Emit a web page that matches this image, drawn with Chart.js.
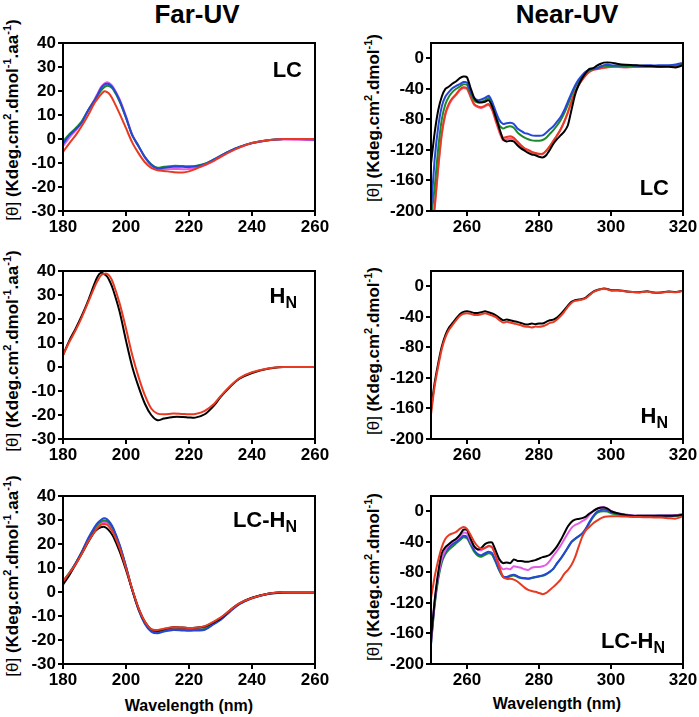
<!DOCTYPE html>
<html>
<head>
<meta charset="utf-8">
<script src="https://cdn.jsdelivr.net/npm/chart.js@4/dist/chart.umd.min.js"></script>
<style>
  body { margin: 0; width: 699px; height: 717px; background: #fff; position: relative; overflow: hidden;
         font-family: "Liberation Sans", Arial, sans-serif; font-weight: bold; color: #000; }
  canvas { position: absolute; }
  .t { position: absolute; line-height: 1; white-space: nowrap; }
  .head { font-size: 26px; transform: translateX(-50%); }
  .ytitle { font-size: 17px; transform: translate(-50%, -50%) rotate(-90deg); }
  .ytitle sup { font-size: 11px; vertical-align: 7px; line-height: 0; }
  .ytitle .th { font-weight: normal; }
  .xtitle { font-size: 16px; transform: translateX(-50%); }
  .lab { font-size: 22px; transform: translateX(-100%); }
  .lab sub { font-size: 16px; vertical-align: -5px; line-height: 0; }
</style>
</head>
<body>

<div class="t head" style="left:197px; top:1px">Far-UV</div>
<div class="t head" style="left:567px; top:1px">Near-UV</div>

<div class="t ytitle" style="left:12px; top:120px"><span class="th">[θ]</span> (Kdeg.cm<sup>2</sup>.dmol<sup>-1</sup>.aa<sup>-1</sup>)</div>
<div class="t ytitle" style="left:12px; top:351px"><span class="th">[θ]</span> (Kdeg.cm<sup>2</sup>.dmol<sup>-1</sup>.aa<sup>-1</sup>)</div>
<div class="t ytitle" style="left:12px; top:576px"><span class="th">[θ]</span> (Kdeg.cm<sup>2</sup>.dmol<sup>-1</sup>.aa<sup>-1</sup>)</div>
<div class="t ytitle" style="left:373px; top:118px"><span class="th">[θ]</span> (Kdeg.cm<sup>2</sup>.dmol<sup>-1</sup>)</div>
<div class="t ytitle" style="left:373px; top:351px"><span class="th">[θ]</span> (Kdeg.cm<sup>2</sup>.dmol<sup>-1</sup>)</div>
<div class="t ytitle" style="left:373px; top:577px"><span class="th">[θ]</span> (Kdeg.cm<sup>2</sup>.dmol<sup>-1</sup>)</div>

<div class="t xtitle" style="left:189px; top:698px">Wavelength (nm)</div>
<div class="t xtitle" style="left:557px; top:696px">Wavelength (nm)</div>

<canvas id="farLC"></canvas>
<canvas id="nearLC"></canvas>
<canvas id="farHN"></canvas>
<canvas id="nearHN"></canvas>
<canvas id="farLCHN"></canvas>
<canvas id="nearLCHN"></canvas>

<div class="t lab" style="left:302px; top:59px">LC</div>
<div class="t lab" style="left:669px; top:177px">LC</div>
<div class="t lab" style="left:297px; top:285px">H<sub>N</sub></div>
<div class="t lab" style="left:668px; top:405px">H<sub>N</sub></div>
<div class="t lab" style="left:297px; top:509px">LC-H<sub>N</sub></div>
<div class="t lab" style="left:665px; top:630px">LC-H<sub>N</sub></div>

<script>
// wavelengths (nm)
var farWl = [180,182,184,186,188,190,191,192,193,194,195,196,198,200,202,204,206,208,210,212,215,218,220,222,225,228,230,233,236,240,245,250,255,260];
var nearWl = [250,251,252,253,254,255,256,257,258,259,260,261,262,263,264,265,266,267,268,269,270,271,272,273,274,275,276,277,278,279,280,
              281,282,283,284,285,286,287,288,289,290,291,292,293,294,295,296,297,298,299,300,302,304,306,308,310,312,314,316,318,320];

// tick labels
var farXTicks = [180, 200, 220, 240, 260];
var farYTicks = [-30, -20, -10, 0, 10, 20, 30, 40];
var nearXTicks = [260, 280, 300, 320];
var nearYTicks = [-200, -160, -120, -80, -40, 0];

// Far-UV LC
var farLC_red = [-5.4,-1.8,1.5,5.5,10,15,16.8,18.5,19.8,19.5,18.3,16,10.5,4.5,-1.5,-6,-9.7,-12,-13,-13.3,-13.8,-14,-13.5,-12.5,-10.8,-9,-7.5,-5.4,-3.6,-1.7,-0.5,0,0,0];
var farLC_blue = [-2,1.5,4,7,12,16,18.5,21,22.5,23,22.5,21,16,9,1.5,-3,-7.5,-10.7,-12.3,-12,-11.6,-11.6,-11.7,-11.5,-10.5,-8.5,-7,-5,-3.3,-1.7,-0.5,0,0,-0.2];
var farLC_green = [-1,2,4.5,7.5,12,16,18,20,21.5,22.2,21.8,20.5,15.5,8.8,1.5,-3,-7.5,-10.5,-12,-11.6,-11.2,-11.3,-11.4,-11.2,-10.3,-8.4,-7,-5,-3.3,-1.7,-0.5,0,0,0];
var farLC_magenta = [-3,0.5,3.5,7,12,16.5,19,21.5,23,23.6,23,21.5,16.5,9.5,1.8,-3,-7.8,-11,-12.6,-12.6,-12.5,-12.6,-12.5,-12.2,-11,-9,-7.4,-5.2,-3.5,-1.8,-0.6,-0.2,-0.3,-0.5];

// Far-UV HN
var farHN_black = [4.9,11,16,21.5,27.7,34.7,37.7,39.2,38.8,37.7,35.3,31.9,22.9,11,0,-8.3,-15.3,-20,-22.2,-21.5,-20.8,-20.8,-21,-21.1,-19.7,-16,-12.5,-8.3,-4.9,-2.5,-0.7,0,0,0];
var farHN_red = [4.9,10.4,15.3,20.8,27,33.3,36,38.1,38.8,38.8,37.5,34.7,26.4,16,4.9,-4.2,-11.8,-17.3,-19.4,-19.7,-19.4,-19.6,-19.7,-19.6,-18.3,-15.3,-12.2,-8,-4.6,-2.2,-0.6,0,0,0];

// Far-UV LC-HN
var farLCHN_red = [4.3,7.8,11.5,16,21,25,26.7,28,28.3,28,26.5,24.4,18.2,9.9,1.1,-6.8,-12.4,-15.5,-15.8,-15.3,-14.7,-14.8,-15,-14.9,-14.2,-12.2,-10.7,-7.6,-4.7,-2.5,-0.7,0,0,0];
var farLCHN_black = [3,7,11.5,16,20.8,25,26.3,27,27.2,26.5,25,23,16.8,9.2,0.8,-6.8,-12.4,-15.5,-16.1,-15.5,-14.7,-14.8,-15,-14.9,-14.4,-12.5,-11,-7.6,-4.7,-2.4,-0.7,0,0,0];
var farLCHN_blue = [4.3,7.8,12,16.8,22.4,27,28.8,30,30.7,30.3,28.8,26.5,19.6,10.6,0.8,-7.5,-13.3,-16.5,-17.2,-16.5,-15.8,-16,-16.1,-16,-15.8,-13.3,-11.7,-8.2,-5.1,-2.6,-0.8,-0.3,-0.3,-0.3];
var farLCHN_green = [4.5,8,12,16.8,22,26.5,28.2,29.3,29.8,29.5,28.2,26,19.3,10.5,0.8,-7.3,-13,-16.2,-16.8,-16.2,-15.6,-15.7,-15.8,-15.7,-15.4,-13,-11.4,-8,-5,-2.5,-0.8,-0.3,-0.2,-0.2];
var farLCHN_magenta = [4,7.5,11.8,16.5,21.5,25.8,27.5,28.7,29.2,28.9,27.6,25.5,19,10.3,0.9,-7.2,-12.8,-15.9,-16.4,-15.9,-15.3,-15.4,-15.5,-15.4,-15,-12.8,-11.2,-7.9,-4.9,-2.5,-0.8,-0.2,-0.2,-0.2];

// Near-UV LC
var nearLC_black = [-138,-98,-68,-50,-40,-37,-33,-30,-26,-24,-25,-39,-52,-57,-58,-57,-55,-63,-77,-92,-106,-109,-108,-109,-114,-118,-121,-124,-126,-127,-129,
                    -130,-127,-120,-112,-106,-101,-96,-88,-68,-48,-35,-26,-19,-14,-13,-10,-7.5,-5.7,-5.5,-5.7,-7.5,-8.5,-9,-9.5,-10,-10.5,-11,-11,-12,-9];
var nearLC_blue = [-200,-133,-90,-63,-50,-44,-39,-36,-34,-31,-32,-44,-52,-55,-54,-52,-49,-57,-70,-81,-86,-85,-84.5,-86,-92,-95,-98,-99,-101,-101.5,-101.5,
                   -101,-97.5,-93,-89,-83,-77,-68,-57,-46,-36,-28,-22,-17.5,-15,-14,-13,-11,-9,-8.5,-9,-9.5,-9,-9,-10,-9,-9.5,-9,-9,-8,-6];
var nearLC_green = [-210,-170,-118,-80,-60,-50,-44,-40,-37,-34,-35,-46,-55,-58,-57,-55,-52,-60,-74,-88,-92,-90,-89,-91,-97,-101,-104,-106,-107.5,-108,-108,
                    -107,-104,-99,-94,-88,-81,-72,-61,-49,-38,-30,-24,-19,-16,-14.5,-13,-11.5,-10,-10,-10,-10,-10.5,-10,-10,-10,-10.5,-10,-10,-9,-7];
var nearLC_red = [-240,-195,-142,-98,-72,-59,-52,-47,-41,-38,-39,-50,-60,-63,-64,-62,-60,-67,-81,-94,-104,-103,-102,-104,-109,-114,-118,-120,-122.5,-124,-125,
                  -125,-121,-115,-108,-101,-93,-83,-71,-57,-44,-35,-28,-22,-17.5,-15,-14,-13,-12,-11.5,-11,-11,-11.5,-11,-11,-11,-11,-10.5,-10,-10,-7.5];
var nearLC_pink = [-240,-198,-145,-100,-74,-61,-53,-48,-42,-39,-40,-51,-61,-64,-65,-63,-61,-68,-83,-97,-107,-106,-105,-106,-110,-115,-119,-121,-123,-124.5,-125.5,
                   -125.5,-121.5,-115.5,-108.5,-101.5,-93.5,-83.5,-71.5,-57.5,-44.5,-35.5,-28.5,-22.5,-18,-15.5,-14.5,-13.5,-12.5,-12,-11.5,-11.5,-12,-11.5,-11.5,-11.5,-11.5,-11,-10.5,-10.5,-8];

// Near-UV HN
var nearHN_black = [-162,-127,-101,-79,-64,-54,-48,-42,-36.6,-33.5,-32.7,-33.5,-35,-35,-34,-32.7,-34,-35.7,-38,-41.4,-44.4,-43.6,-44.4,-45.8,-46.6,-48,-49.7,-50,-48.8,-49.7,-48.8,
                    -48.8,-46.6,-44.4,-43.6,-41,-36.6,-31.4,-25.3,-20.5,-18.3,-17.4,-16.6,-14.8,-10.9,-7.4,-5.2,-3.9,-3,-3.5,-5.2,-5.2,-6.5,-7.4,-7.8,-6.5,-8.3,-8,-7,-7.5,-5.7];
var nearHN_red = [-168,-131,-105,-82,-67,-57,-50.5,-44.4,-39,-36,-35.3,-36,-37.5,-37.5,-36.6,-35.3,-36.6,-38.3,-40.5,-44.4,-47.5,-46.6,-47.5,-48.8,-49.7,-51,-52.7,-53,-54,-52.7,-53,
                  -52.3,-50.5,-48,-47,-43.6,-39,-33.5,-27,-21.8,-19.2,-18.3,-17.4,-15.7,-11.8,-7.8,-5.7,-3.9,-3.5,-3.9,-5.7,-5.5,-6.8,-7.6,-8,-6.8,-8.5,-8.2,-7.2,-7.7,-6];

// Near-UV LC-HN
var nearLCHN_red = [-114,-86,-64,-47,-36,-31,-29,-27,-23,-20.5,-23,-31,-40,-46,-49,-48,-45,-47.5,-59,-73,-86,-88.5,-88.5,-89.5,-92,-96,-100,-103,-104.5,-105.5,-107,
                    -108.5,-107,-103,-99,-94.5,-89.5,-82,-77,-70.5,-60.5,-46.6,-33.5,-25,-20.5,-16,-12.6,-9.6,-7.4,-6.8,-6.5,-6.5,-7,-7.4,-7.6,-7.8,-8,-8.3,-9,-9.6,-6.5];
var nearLCHN_black = [-168,-118,-80,-55,-47,-43,-39,-36,-31,-24,-24.5,-36,-46,-50,-48,-43,-41,-41,-52,-63,-68,-67,-68,-63,-65,-65,-66,-66,-65,-64,-62,
                      -60,-59,-57,-52,-46,-38,-29,-20,-14,-11,-10,-9,-7,-3,0,3,4.5,5,3.5,0,-3,-5,-6,-6,-6,-6,-6,-6,-5.5,-4.5];
var nearLCHN_magenta = [-172,-118,-84,-62,-51,-44,-40,-37,-33,-28,-29,-40,-47,-50,-51,-48,-46,-47,-58,-70,-76,-75,-76,-72,-73,-74,-76,-77,-74,-73,-73,
                        -72,-70,-65,-58,-52,-45,-37,-29,-22,-18,-16,-13,-10,-5,0,3,5,5.5,3.5,0.5,-3,-4.5,-5.5,-6,-6,-6,-6,-5.5,-5,-4];
var nearLCHN_blue = [-173,-121,-86,-64,-53,-47,-43,-40,-36,-32,-33.5,-42,-51,-56,-57.5,-55,-53,-55,-66,-77,-85,-86,-84,-83,-85,-87,-87.5,-88,-87,-86,-85,
                     -84,-82,-79,-75,-68,-62,-55,-47.5,-40,-36,-32.5,-29,-22.5,-14,-6.5,-0.9,1.3,2.2,1.3,-0.9,-3,-4.4,-5.7,-5.7,-5.7,-5.7,-5.5,-5.5,-5.2,-3.9];
var nearLCHN_green = [-175,-124,-89,-67,-56,-50,-46,-42,-38,-34,-35.5,-44,-53,-58,-59.5,-57,-55,-57,-67,-78,-86,-87,-85,-84,-86,-87.5,-88,-88.5,-87.5,-86.5,-85.5,
                      -84.5,-82.5,-79.5,-75.5,-68.5,-62.5,-55.5,-48,-40.5,-36.5,-33,-29.5,-23.5,-15.5,-8,-2.5,-0.5,0,-0.5,-2.5,-4.5,-5.5,-6.5,-6.5,-6.5,-6.5,-6.5,-6.5,-6,-5];

var BLACK = '#000000', RED = '#e83a22', BLUE = '#2447d8', GREEN = '#1b8a2c', MAGENTA = '#e35ce6', PINK = '#ff5a82';

// draws the closed box round the plot area
const frame = {
    id: 'frame',
    afterDraw(chart) {
        const a = chart.chartArea, ctx = chart.ctx;
        ctx.save();
        ctx.strokeStyle = '#000';
        ctx.lineWidth = 2;
        ctx.strokeRect(a.left, a.top, a.right - a.left, a.bottom - a.top);
        ctx.restore();
    }
};

const line = (wl, ys, color, tension) => ({
    data: wl.map((x, i) => ({ x: x, y: ys[i] })),
    borderColor: color,
    borderWidth: 2,
    pointRadius: 0,
    tension: tension,
    fill: false
});

/*
 * one panel: box = canvas position, plot = plot area edges (page px)
 */
const panel = (id, box, plot, x, y, sets) => {
    const cv = document.getElementById(id);
    cv.width = box.w; cv.height = box.h;
    cv.style.left = box.l + 'px'; cv.style.top = box.t + 'px';
    const axisW = plot.l - box.l, axisH = box.t + box.h - plot.b;
    const tickFont = { family: '"Liberation Sans", Arial, sans-serif', weight: 'bold', size: 17 };

    new Chart(cv, {
        type: 'line',
        data: { datasets: sets },
        options: {
            responsive: false,
            animation: false,
            events: [],
            layout: { padding: { left: 0, top: plot.t - box.t, right: box.l + box.w - plot.r, bottom: 0 } },
            plugins: { legend: { display: false }, tooltip: { enabled: false } },
            scales: {
                x: {
                    type: 'linear', min: x.min, max: x.max,
                    afterBuildTicks: s => { s.ticks = x.ticks.map(v => ({ value: v })); },
                    afterFit: s => { s.height = axisH; },
                    grid: { drawOnChartArea: false, drawTicks: true, tickLength: 5, color: '#000', lineWidth: 2 },
                    border: { color: '#000', width: 2 },
                    ticks: { color: '#000', font: tickFont, padding: 1, maxRotation: 0, autoSkip: false }
                },
                y: {
                    min: y.min, max: y.max,
                    afterBuildTicks: s => { s.ticks = y.ticks.map(v => ({ value: v })); },
                    afterFit: s => { s.width = axisW; },
                    grid: { drawOnChartArea: false, drawTicks: true, tickLength: 5, color: '#000', lineWidth: 2 },
                    border: { color: '#000', width: 2 },
                    ticks: { color: '#000', font: tickFont, padding: 2, autoSkip: false }
                }
            }
        },
        plugins: [frame]
    });
};

var farX = { min: 180, max: 260, ticks: farXTicks };
var farY = { min: -30, max: 40, ticks: farYTicks };
var nearX = { min: 250, max: 320, ticks: nearXTicks };
var nearY = { min: -200, max: 20, ticks: nearYTicks };

panel('farLC', { l: 0, t: 0, w: 350, h: 240 }, { l: 63, r: 315, t: 43, b: 211 }, farX, farY, [
    line(farWl, farLC_red, RED, 0.3),
    line(farWl, farLC_blue, BLUE, 0.3),
    line(farWl, farLC_green, GREEN, 0.3),
    line(farWl, farLC_magenta, MAGENTA, 0.3)
]);
panel('nearLC', { l: 350, t: 0, w: 349, h: 240 }, { l: 431, r: 683, t: 43, b: 211 }, nearX, nearY, [
    line(nearWl, nearLC_black, BLACK, 0.2),
    line(nearWl, nearLC_blue, BLUE, 0.2),
    line(nearWl, nearLC_green, GREEN, 0.2),
    line(nearWl, nearLC_red, RED, 0.2),
    line(nearWl, nearLC_pink, PINK, 0.2)
]);
panel('farHN', { l: 0, t: 240, w: 350, h: 230 }, { l: 63, r: 315, t: 271, b: 439 }, farX, farY, [
    line(farWl, farHN_red, RED, 0.3),
    line(farWl, farHN_black, BLACK, 0.3)
]);
panel('nearHN', { l: 350, t: 240, w: 349, h: 230 }, { l: 431, r: 683, t: 271, b: 439 }, nearX, nearY, [
    line(nearWl, nearHN_red, RED, 0.2),
    line(nearWl, nearHN_black, BLACK, 0.2)
]);
panel('farLCHN', { l: 0, t: 470, w: 350, h: 247 }, { l: 63, r: 315, t: 496, b: 664 }, farX, farY, [
    line(farWl, farLCHN_red, RED, 0.3),
    line(farWl, farLCHN_black, BLACK, 0.3),
    line(farWl, farLCHN_blue, BLUE, 0.3),
    line(farWl, farLCHN_green, GREEN, 0.3),
    line(farWl, farLCHN_magenta, MAGENTA, 0.3)
]);
panel('nearLCHN', { l: 350, t: 470, w: 349, h: 247 }, { l: 431, r: 683, t: 496, b: 664 }, nearX, nearY, [
    line(nearWl, nearLCHN_red, RED, 0.2),
    line(nearWl, nearLCHN_black, BLACK, 0.2),
    line(nearWl, nearLCHN_magenta, MAGENTA, 0.2),
    line(nearWl, nearLCHN_blue, BLUE, 0.2),
    line(nearWl, nearLCHN_green, GREEN, 0.2)
]);
</script>
</body>
</html>
